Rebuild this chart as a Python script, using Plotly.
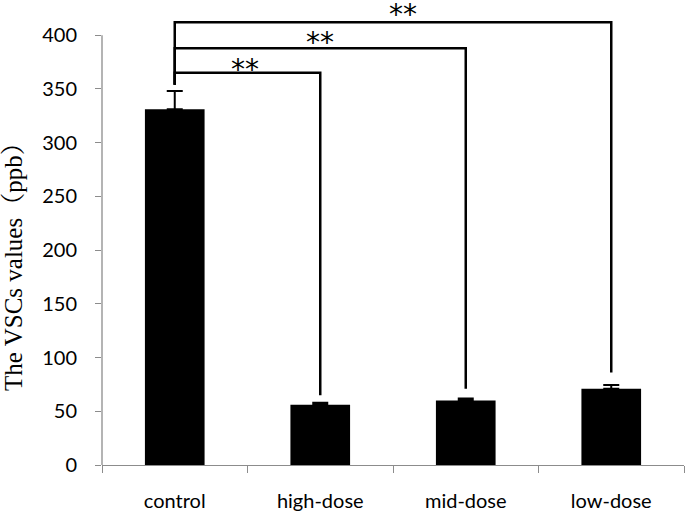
import plotly.graph_objects as go

categories = ["control", "high-dose", "mid-dose", "low-dose"]
values = [331, 56, 60, 71]
errors = [17, 2, 2, 3.5]

# significance brackets: target index, bracket level, lower end of the target leg
bracket_targets = [1, 2, 3]
bracket_levels = [365, 388, 412]
bracket_target_bottoms = [65, 71, 86]
control_leg_bottom = 354
star_x = [0.48, 1.0, 1.57]
star_y = [368, 393.5, 419.5]
star_labels = ["**", "**", "**"]

y_ticks = [0, 50, 100, 150, 200, 250, 300, 350, 400]

x_pos = list(range(len(categories)))

fig = go.Figure()
fig.add_trace(go.Bar(
    x=x_pos, y=values, width=0.41,
    marker=dict(color="black", line=dict(width=0)),
    error_y=dict(type="data", array=errors, visible=True, color="black",
                 thickness=2, width=8, symmetric=False, arrayminus=[0]*4),
    showlegend=False,
))

axis_gray = "#8c8c8c"
shapes = []
# y axis line drawn only from 0 to 400
shapes.append(dict(type="line", xref="paper", yref="y", x0=0, x1=0, y0=0, y1=400,
                   line=dict(color=axis_gray, width=1.3)))
for t, lvl, bot in zip(bracket_targets, bracket_levels, bracket_target_bottoms):
    shapes.append(dict(type="path", xref="x", yref="y",
                       path=f"M 0 {control_leg_bottom} L 0 {lvl} L {t} {lvl} L {t} {bot}",
                       line=dict(color="black", width=2.5)))

annotations = []
for sx, sy, lab in zip(star_x, star_y, star_labels):
    annotations.append(dict(x=sx, y=sy, xref="x", yref="y", text=lab, showarrow=False,
                            yanchor="middle",
                            font=dict(family="DejaVu Sans", size=28, color="black")))
annotations.append(dict(x=-0.151, y=190, xref="paper", yref="y",
                        text="The VSCs values（ppb）", textangle=-90, showarrow=False,
                        xanchor="center", yanchor="middle",
                        font=dict(family="Liberation Serif, Noto Serif CJK SC, Noto Sans CJK SC",
                                  size=25, color="black")))

fig.update_layout(
    width=685, height=512,
    margin=dict(l=102, r=1, t=3, b=47),
    plot_bgcolor="white", paper_bgcolor="white",
    shapes=shapes, annotations=annotations,
    xaxis=dict(range=[-0.5, 3.5], tickvals=x_pos, ticktext=categories, ticks="",
               showline=True, linecolor=axis_gray, linewidth=1.3, showgrid=False,
               zeroline=False, ticklabelstandoff=18,
               tickfont=dict(family="Lato", size=20, color="black"),
               minor=dict(tickvals=[-0.5, 0.5, 1.5, 2.5, 3.5], ticks="outside",
                          ticklen=7, tickcolor=axis_gray, tickwidth=1.3, showgrid=False)),
    yaxis=dict(range=[0, 430], tickvals=y_ticks, ticks="outside", ticklen=6,
               tickcolor=axis_gray, tickwidth=1.3, showline=False, showgrid=False,
               zeroline=False, ticklabelstandoff=14,
               tickfont=dict(family="Lato", size=20, color="black")),
)

fig.write_html("out.html", config={"displayModeBar": False},
               post_script="document.body.style.margin='0';")
